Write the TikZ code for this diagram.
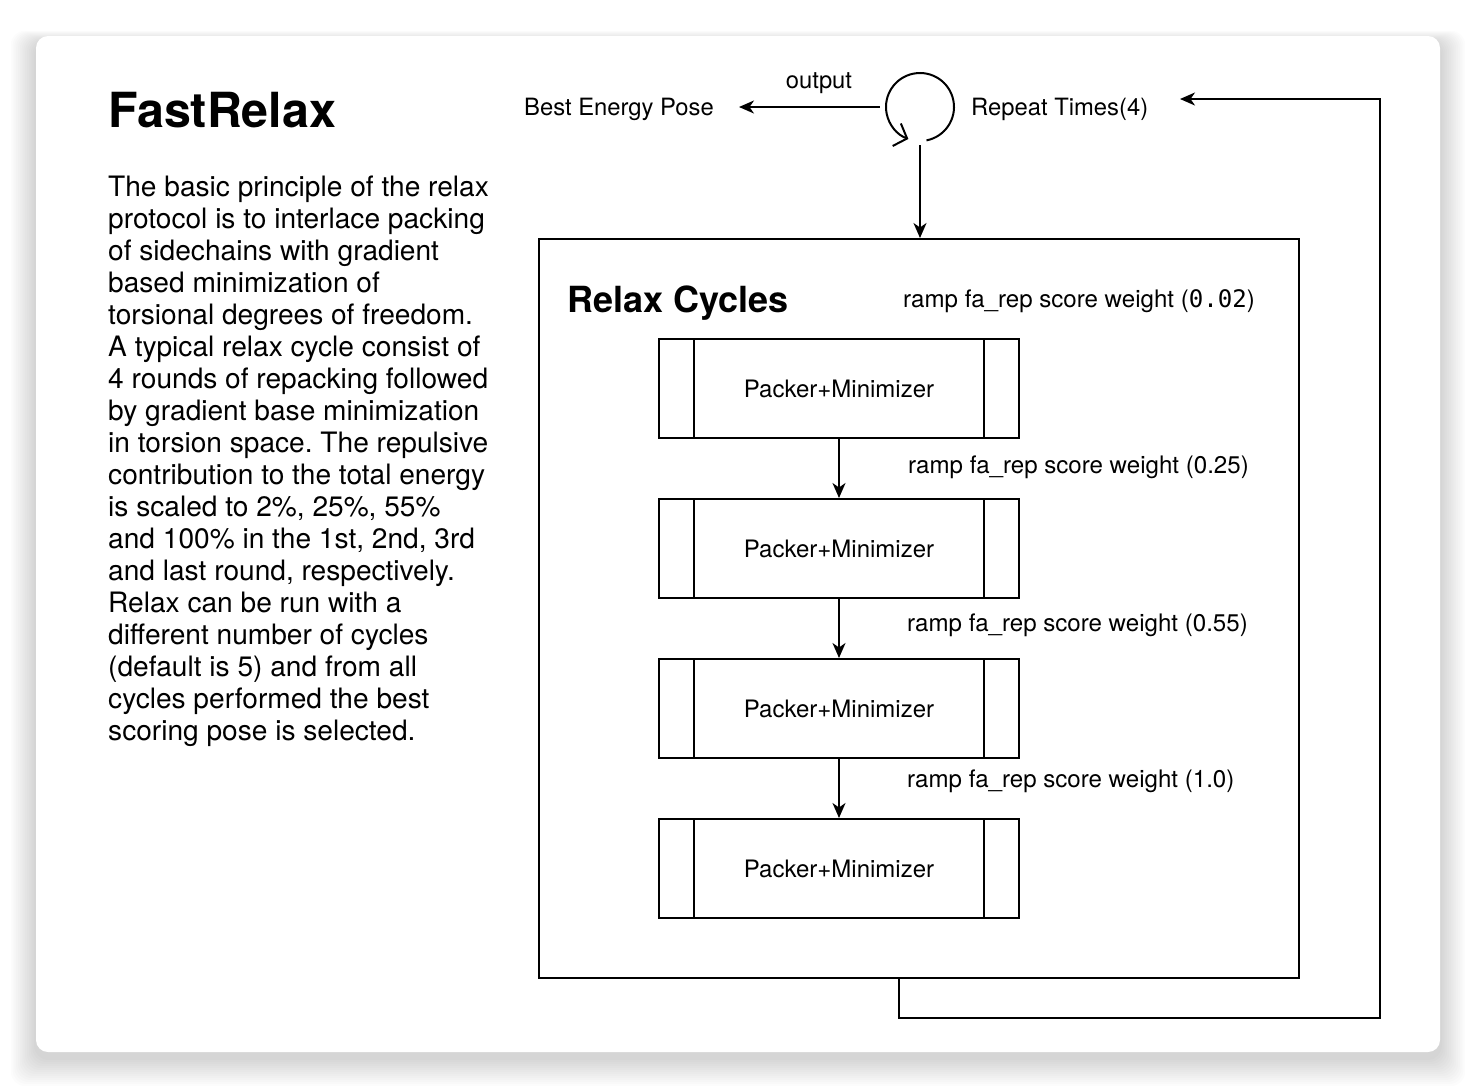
\documentclass[tikz,border=0pt]{standalone}
\usepackage{fontspec}
\setmainfont{TeX Gyre Heros}
\newfontfamily\monof{DejaVu Sans Mono}
\usetikzlibrary{arrows.meta,calc}
\frenchspacing
\tikzset{
  body/.style={font=\fontsize{28.1}{32}\selectfont, inner sep=0pt, anchor=base west},
  ttl/.style={font=\fontsize{48.4}{52}\selectfont\bfseries, inner sep=0pt, anchor=base west},
  sub/.style={font=\fontsize{36}{40}\selectfont\bfseries, inner sep=0pt, anchor=base west},
  lbl/.style={font=\fontsize{23.8}{28}\selectfont, inner sep=0pt},
  ramp/.style={font=\fontsize{24.1}{28}\selectfont, inner sep=0pt, anchor=base west},
  pm/.style={draw, line width=2pt, minimum width=360pt, minimum height=99pt, inner sep=0pt,
             font=\fontsize{24}{28}\selectfont},
  arr/.style={line width=2pt, -{Stealth[length=15pt,width=13pt,inset=4.5pt]}},
  ln/.style={line width=2pt}
}
\begin{document}
\frenchspacing
\begin{tikzpicture}[x=1pt,y=1pt]
\useasboundingbox (0,0) rectangle (1476,-1088);
\fill[white] (0,0) rectangle (1476,-1088);
% shadow
\foreach \i in {1,...,14}{
  \fill[black, opacity=0.012, rounded corners=14pt]
    ({36-1.8*\i},{-36+0.8*\i-6}) rectangle ({1440+1.8*\i},{-1052-2*\i-6});
}
% card
\fill[white, rounded corners=12pt] (36,-36) rectangle (1440,-1052);

% title and paragraph
\node[ttl] (title) at (108,-127) {FastRelax};
\foreach \t [count=\i] in {
  {The basic principle of the relax},
  {protocol is to interlace packing},
  {of sidechains with gradient},
  {based minimization of},
  {torsional degrees of freedom.},
  {A typical relax cycle consist of},
  {4 rounds of repacking followed},
  {by gradient base minimization},
  {in torsion space. The repulsive},
  {contribution to the total energy},
  {is scaled to 2\%, 25\%, 55\%},
  {and 100\% in the 1st, 2nd, 3rd},
  {and last round, respectively.},
  {Relax can be run with a},
  {different number of cycles},
  {(default is 5) and from all},
  {cycles performed the best},
  {scoring pose is selected.}}{
  \node[body] (p\i) at (108,{-196-32*(\i-1)}) {\frenchspacing\t};
}

% top part
\node[lbl, anchor=base] (best) at (619,-115) {Best Energy Pose};
\node[lbl, anchor=base] (out) at (819,-88) {output};
\node[lbl, anchor=base west] (rep) at (971,-115) {Repeat Times(4)};
\node[circle, minimum size=68pt, inner sep=0pt] (loop) at (920,-107) {};
\draw[ln, -{Straight Barb[length=11pt,width=24pt,line width=2pt]}]
  ($(loop.center)+(-79:34)$) arc[start angle=-79, end angle=250, radius=34];
\coordinate (bestend) at (739,-107);
\draw[arr] ([xshift=-6pt]loop.west) -- (bestend);

% relax cycles box
\node[draw, line width=2pt, minimum width=760pt, minimum height=739pt, inner sep=0pt] (relax) at (919,-608.5) {};
\draw[arr] ([yshift=-4pt]loop.south) -- (loop.south |- relax.north);
\node[sub] (rc) at (567,-312) {Relax Cycles};

% packer boxes
\foreach \i/\y in {1/388.5, 2/548.5, 3/708.5, 4/868.5}{
  \node[pm] (b\i) at (839,-\y) {Packer+Minimizer};
  \draw[ln] ([xshift=36pt]b\i.north west) -- ([xshift=36pt]b\i.south west);
  \draw[ln] ([xshift=-36pt]b\i.north east) -- ([xshift=-36pt]b\i.south east);
}
\draw[arr] (b1.south) -- (b2.north);
\draw[arr] (b2.south) -- (b3.north);
\draw[arr] (b3.south) -- (b4.north);

\node[ramp] (r1) at (903,-307) {ramp fa\_rep score weight ({\monof 0.02})};
\node[ramp] (r2) at (908,-473) {ramp fa\_rep score weight (0.25)};
\node[ramp] (r3) at (907,-631) {ramp fa\_rep score weight (0.55)};
\node[ramp] (r4) at (907,-787) {ramp fa\_rep score weight (1.0)};

% feedback loop
\coordinate (fbx) at (899,-1018);
\coordinate (fbr) at (1380,-1018);
\coordinate (fbt) at (1380,-99);
\coordinate (fbend) at (1180,-99);
\draw[arr] (fbx |- relax.south) -- (fbx) -- (fbr) -- (fbt) -- (fbend);
\end{tikzpicture}
\end{document}
